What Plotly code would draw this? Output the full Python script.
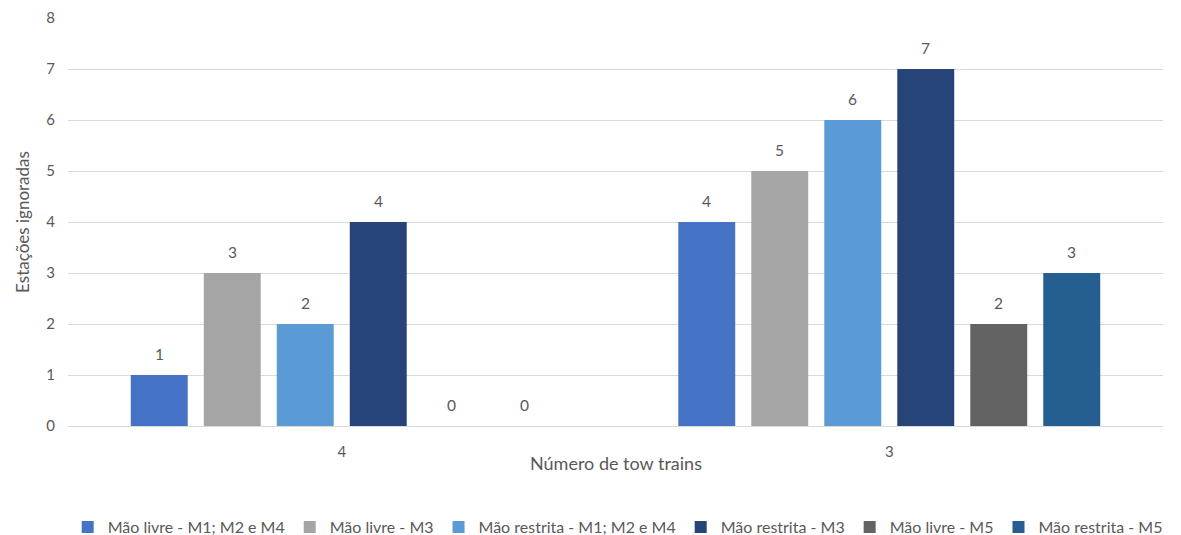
import plotly.graph_objects as go

categories = ["4", "3"]
series_names = [
    "Mão livre - M1; M2 e M4",
    "Mão livre - M3",
    "Mão restrita - M1; M2 e M4",
    "Mão restrita - M3",
    "Mão livre - M5",
    "Mão restrita - M5",
]
values = [
    [1, 4],
    [3, 5],
    [2, 6],
    [4, 7],
    [0, 2],
    [0, 3],
]
colors = ["#4472C4", "#A5A5A5", "#5B9BD5", "#264478", "#636363", "#255E91"]

FONT = "Lato"
GRAY = "#595959"
# page body has an 8px offset; figure sized to fit the window
W, H = 1173, 527
ML, MR, MT, MB = 60, 18, 10, 109
BARGAP = 0.2

fig = go.Figure()
for name, vals, col in zip(series_names, values, colors):
    fig.add_trace(go.Bar(
        name=name, x=categories, y=vals, marker_color=col,
        marker_line_width=0,
    ))

# data labels placed above each bar (x given as category index)
plot_w = W - ML - MR
n = len(series_names)
pitch = plot_w / len(categories) * (1 - BARGAP) / n
for i, vals in enumerate(values):
    for ci, v in enumerate(vals):
        fig.add_annotation(x=ci, y=v, text=str(v), showarrow=False,
                           xshift=(i - (n - 1) / 2) * pitch, yshift=21,
                           font=dict(family=FONT, size=15.5, color=GRAY))

fig.add_annotation(xref="paper", yref="paper", x=0.5, y=0, yshift=-50,
                   text="Número de tow trains", showarrow=False,
                   font=dict(family=FONT, size=18, color=GRAY))

fig.update_layout(
    width=W, height=H,
    margin=dict(l=ML, r=MR, t=MT, b=MB, autoexpand=False),
    paper_bgcolor="white", plot_bgcolor="white",
    barmode="group", bargap=BARGAP, bargroupgap=0.22,
    font=dict(family=FONT, size=15, color=GRAY),
    showlegend=True,
    legend=dict(orientation="h", x=0.502, xanchor="center", yref="container",
                y=8 / H, yanchor="middle",
                font=dict(family=FONT, size=16, color=GRAY),
                itemwidth=30, tracegroupgap=0, itemsizing="constant"),
    xaxis=dict(type="category", range=[-0.5, len(categories) - 0.5],
               showgrid=False, showline=True, linecolor="#D9D9D9",
               ticks="", automargin=False, ticklabelstandoff=12,
               tickfont=dict(size=15, color=GRAY)),
    yaxis=dict(title=dict(text="Estações ignoradas", font=dict(size=17, color=GRAY), standoff=12),
               range=[0, 8], dtick=1, showgrid=True, gridcolor="#D9D9D9",
               zeroline=False, showline=False, ticks="", automargin=False,
               ticklabelstandoff=12, tickfont=dict(size=15, color=GRAY)),
)

fig.write_html("out.html")
